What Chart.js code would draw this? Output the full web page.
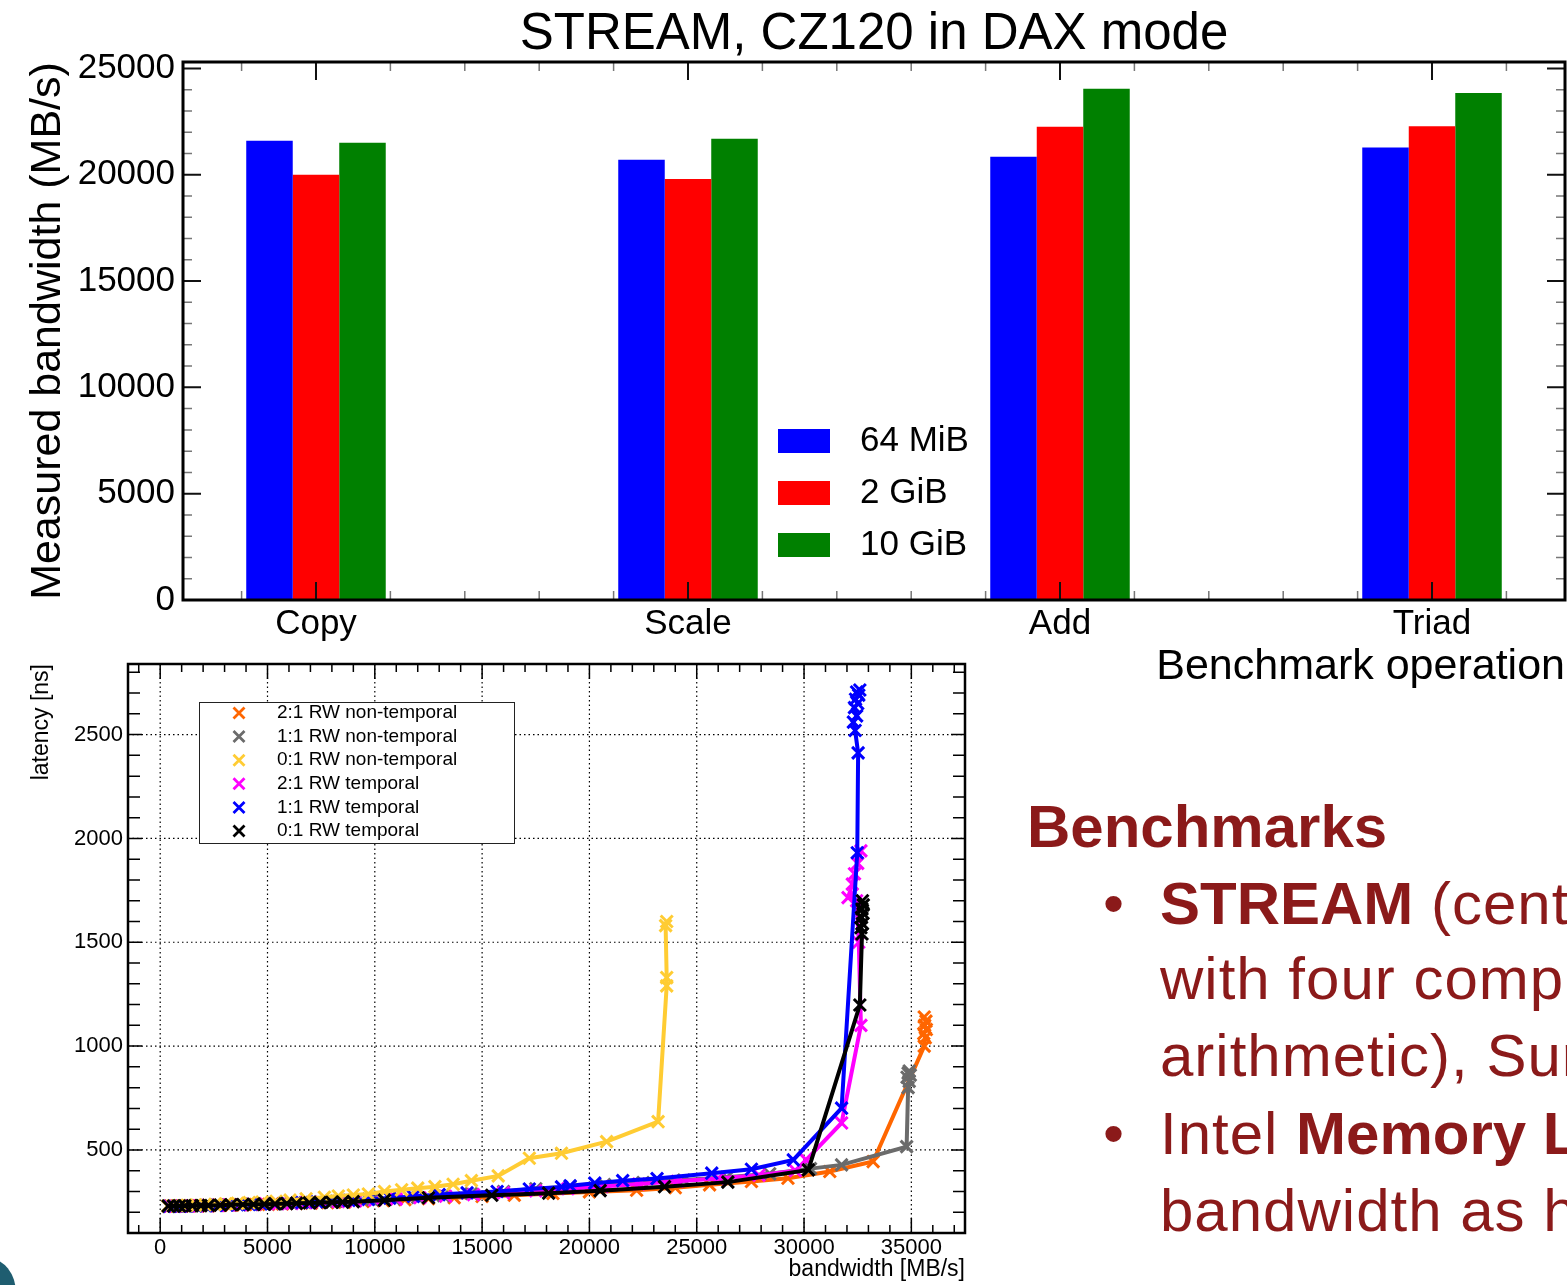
<!DOCTYPE html>
<html>
<head>
<meta charset="utf-8">
<script src="https://cdn.jsdelivr.net/npm/chart.js@4.4.0/dist/chart.umd.min.js"></script>
<style>
    html, body { margin: 0; padding: 0; background: #fff; }
    body { width: 1567px; height: 1285px; position: relative; overflow: hidden; font-family: "Liberation Sans", Arial, sans-serif; }
    canvas { position: absolute; left: 0; }
    #streamChart { top: 0; }
    #latencyChart { top: 640px; }
    .slide { position: absolute; color: #8b1a1a; white-space: nowrap; font-size: 60px; line-height: 60px; letter-spacing: 1px; }
    .slide b { font-weight: bold; letter-spacing: 0; }
    .corner { position: absolute; left: -40px; top: 1258px; width: 56px; height: 70px; border-radius: 50%; background: #1f5d70; }
</style>
</head>
<body>
<canvas id="streamChart" width="1567" height="700"></canvas>
<canvas id="latencyChart" width="990" height="645"></canvas>

<div class="slide" style="left:1027px; top:797px; font-weight:bold; letter-spacing:0;">Benchmarks</div>
<div class="slide" style="left:1103px; top:874px;">•</div>
<div class="slide" style="left:1160px; top:874px;"><b>STREAM</b> (cent</div>
<div class="slide" style="left:1160px; top:949px;">with four comp</div>
<div class="slide" style="left:1160px; top:1026px;">arithmetic), Sur</div>
<div class="slide" style="left:1103px; top:1104px;">•</div>
<div class="slide" style="left:1160px; top:1104px;">Intel <b>Memory L</b></div>
<div class="slide" style="left:1160px; top:1181px;">bandwidth as h</div>
<div class="corner"></div>

<script>
    // STREAM bandwidth, MB/s
    const categories = ["Copy", "Scale", "Add", "Triad"];
    const sizeLabels = ["64 MiB", "2 GiB", "10 GiB"];
    const bw64MiB = [21600, 20700, 20850, 21280];
    const bw2GiB = [20000, 19800, 22250, 22280];
    const bw10GiB = [21500, 21690, 24040, 23840];
    const streamTicks = [0, 5000, 10000, 15000, 20000, 25000];

    // MLC loaded latency, [bandwidth MB/s, latency ns]
    const seriesLabels = ["2:1 RW non-temporal", "1:1 RW non-temporal", "0:1 RW non-temporal",
        "2:1 RW temporal", "1:1 RW temporal", "0:1 RW temporal"];
    const bandwidthTicks = [0, 5000, 10000, 15000, 20000, 25000, 30000, 35000];
    const latencyTicks = [500, 1000, 1500, 2000, 2500];
    const lat21NonTemporal = [[480, 230], [750, 230], [1050, 230], [1400, 231], [1800, 231], [2250, 232],
        [2750, 233], [3300, 234], [3850, 235], [4450, 237], [5050, 238], [5700, 240], [6350, 242],
        [7050, 244], [7800, 246], [8600, 249], [9450, 252], [10400, 256], [11400, 260], [12500, 265],
        [13700, 270], [15000, 276], [16500, 282], [18300, 290], [20000, 298], [22200, 306], [24000, 318],
        [25600, 332], [27550, 348], [29250, 364], [31200, 396], [33220, 444], [35600, 1000],
        [35650, 1040], [35580, 1060], [35700, 1080], [35620, 1100], [35680, 1120], [35600, 1140]];
    const lat11NonTemporal = [[420, 229], [680, 229], [980, 230], [1300, 230], [1700, 231], [2150, 232],
        [2650, 233], [3150, 235], [3700, 236], [4250, 238], [4850, 240], [5450, 242], [6100, 244],
        [6750, 247], [7450, 250], [8200, 253], [9000, 256], [9900, 260], [10900, 265], [12000, 271],
        [13200, 280], [14500, 290], [16000, 300], [17500, 313], [19100, 323], [20700, 333], [22500, 343],
        [24400, 355], [26400, 368], [28400, 385], [30300, 410], [31750, 428], [34780, 516],
        [34850, 800], [34900, 830], [34800, 850], [34950, 860], [34850, 870], [34900, 880]];
    const lat01NonTemporal = [[350, 230], [600, 231], [900, 232], [1250, 233], [1650, 234], [2100, 236],
        [2550, 238], [3050, 240], [3600, 243], [4150, 246], [4750, 249], [5400, 253], [6050, 258],
        [6800, 265], [7650, 272], [8300, 278], [9000, 283], [9700, 288], [10450, 300], [11250, 308],
        [12000, 316], [12800, 323], [13650, 335], [14500, 352], [15750, 375], [17200, 460], [18700, 484],
        [20800, 540], [23200, 636], [23600, 1290], [23600, 1330], [23550, 1580], [23600, 1600]];
    const lat21Temporal = [[450, 229], [700, 229], [1000, 230], [1350, 230], [1750, 231], [2200, 232],
        [2700, 233], [3200, 235], [3750, 236], [4300, 238], [4900, 240], [5500, 241], [6150, 243],
        [6800, 246], [7500, 248], [8300, 251], [9100, 254], [10000, 258], [11000, 263], [12100, 270],
        [13300, 277], [14600, 285], [16000, 293], [17500, 303], [19000, 313], [20600, 324], [22300, 336],
        [24100, 349], [26000, 363], [27900, 378], [29600, 400], [30100, 452], [31750, 630], [32650, 1100],
        [32550, 1500], [32450, 1700], [32050, 1715], [32250, 1780], [32350, 1830], [32500, 1880],
        [32650, 1940]];
    const lat11Temporal = [[400, 228], [650, 229], [950, 229], [1250, 230], [1650, 231], [2100, 232],
        [2600, 233], [3100, 235], [3600, 236], [4150, 238], [4700, 240], [5300, 242], [5900, 244],
        [6600, 247], [7300, 250], [8000, 253], [8800, 257], [9700, 262], [10700, 268], [11800, 276],
        [13000, 285], [14300, 293], [15700, 300], [17200, 312], [18700, 322], [19100, 327], [20250, 340],
        [21550, 352], [23150, 362], [25700, 388], [27550, 407], [29500, 452], [31750, 701], [32480, 1931],
        [32520, 2412], [32380, 2520], [32300, 2560], [32450, 2590], [32350, 2630], [32500, 2650],
        [32400, 2670], [32550, 2690], [32450, 2705], [32600, 2715]];
    const lat01Temporal = [[370, 230], [620, 230], [900, 230], [1150, 231], [1500, 231], [1900, 232],
        [2250, 233], [2800, 234], [3300, 236], [3850, 237], [4350, 238], [4850, 239], [5350, 240],
        [5900, 242], [6350, 243], [6950, 245], [7450, 246], [8000, 248], [8500, 249], [9000, 251],
        [10450, 258], [12500, 270], [15450, 282], [18100, 292], [20500, 304], [23500, 323], [26450, 345],
        [30200, 404], [32600, 1198], [32700, 1540], [32650, 1570], [32720, 1590], [32680, 1620],
        [32750, 1640], [32700, 1660], [32760, 1680], [32720, 1700]];

    const barColors = ["#0000ff", "#ff0000", "#008000"];
    const lineColors = ["#ff6600", "#6b6b6b", "#ffcc33", "#ff00ff", "#0000ff", "#000000"];
    const drawOrder = [5, 4, 1, 3, 2, 0]; // black on top

    Chart.defaults.font.family = '"Liberation Sans", Arial, sans-serif';
    Chart.defaults.color = "#000";

    const fixedTicks = (values) => (scale) => {
        scale.ticks = values.map((value) => ({ value }));
    };

    const markValues = (scale, step) => {
        const vals = [];
        for (let k = Math.ceil(scale.min / step - 1e-9); k * step <= scale.max + 1e-9; k++) {
            vals.push(k * step);
        }
        return vals;
    };

    // gnuplot style ticks, pointing inwards on all four sides
    const drawMarks = (ctx, scale, spec, a, horizontal) => {
        markValues(scale, spec.minor).forEach((v) => {
            const isMajor = Math.abs(v / spec.major - Math.round(v / spec.major)) < 1e-6;
            const len = isMajor ? spec.majorLen : spec.minorLen;
            const p = scale.getPixelForValue(v);
            ctx.strokeStyle = isMajor ? spec.majorColor : spec.minorColor;
            ctx.lineWidth = isMajor ? spec.majorWidth : spec.minorWidth;
            ctx.beginPath();
            if (horizontal) {
                ctx.moveTo(p, a.bottom);
                ctx.lineTo(p, a.bottom - len);
                ctx.moveTo(p, a.top);
                ctx.lineTo(p, a.top + len);
            } else {
                ctx.moveTo(a.left, p);
                ctx.lineTo(a.left + len, p);
                ctx.moveTo(a.right, p);
                ctx.lineTo(a.right - len, p);
            }
            ctx.stroke();
        });
    };

    const framePlugin = {
        id: "frame",
        beforeDatasetsDraw(chart, args, opts) {
            if (!opts.grid) {
                return;
            }
            const { ctx, chartArea: a, scales: { x, y } } = chart;
            ctx.save();
            ctx.strokeStyle = "#000";
            ctx.lineWidth = 1.2;
            ctx.setLineDash([1.5, 3]);
            x.ticks.forEach((t) => {
                const p = x.getPixelForValue(t.value);
                ctx.beginPath();
                ctx.moveTo(p, a.top);
                ctx.lineTo(p, a.bottom);
                ctx.stroke();
            });
            y.ticks.forEach((t) => {
                const p = y.getPixelForValue(t.value);
                ctx.beginPath();
                ctx.moveTo(a.left, p);
                ctx.lineTo(a.right, p);
                ctx.stroke();
            });
            ctx.restore();
        },
        afterDatasetsDraw(chart, args, opts) {
            const { ctx, chartArea: a, scales: { x, y } } = chart;
            ctx.save();
            drawMarks(ctx, x, opts.xMarks, a, true);
            drawMarks(ctx, y, opts.yMarks, a, false);
            ctx.strokeStyle = "#000";
            ctx.lineWidth = opts.frameWidth;
            ctx.strokeRect(a.left, a.top, a.right - a.left, a.bottom - a.top);

            const lg = opts.legend;
            ctx.font = lg.font;
            ctx.textBaseline = "middle";
            ctx.textAlign = "left";
            if (lg.box) {
                ctx.fillStyle = "#fff";
                ctx.fillRect(lg.box[0], lg.box[1], lg.box[2] - lg.box[0], lg.box[3] - lg.box[1]);
                ctx.strokeStyle = "#222";
                ctx.lineWidth = 1;
                ctx.strokeRect(lg.box[0] + 0.5, lg.box[1] + 0.5, lg.box[2] - lg.box[0], lg.box[3] - lg.box[1]);
            }
            chart.data.datasets.forEach((ds, i) => {
                const cy = lg.firstY + i * lg.gap;
                if (lg.swatch) {
                    ctx.fillStyle = ds.backgroundColor;
                    ctx.fillRect(lg.markX, cy - lg.swatch[1] / 2, lg.swatch[0], lg.swatch[1]);
                } else {
                    const r = 5.5;
                    ctx.strokeStyle = ds.borderColor;
                    ctx.lineWidth = 2.8;
                    ctx.beginPath();
                    ctx.moveTo(lg.markX - r, cy - r);
                    ctx.lineTo(lg.markX + r, cy + r);
                    ctx.moveTo(lg.markX - r, cy + r);
                    ctx.lineTo(lg.markX + r, cy - r);
                    ctx.stroke();
                }
                ctx.fillStyle = "#000";
                ctx.fillText(ds.label, lg.textX, cy);
            });
            ctx.restore();
        }
    };

    new Chart(document.getElementById("streamChart"), {
        type: "bar",
        data: {
            datasets: [bw64MiB, bw2GiB, bw10GiB].map((vals, i) => ({
                label: sizeLabels[i],
                data: vals.map((v, k) => ({ x: k, y: v })),
                backgroundColor: barColors[i],
                borderWidth: 0,
                categoryPercentage: 0.375,
                barPercentage: 1
            }))
        },
        options: {
            responsive: false,
            animation: false,
            layout: { padding: { top: 0, right: 2, left: 0, bottom: 0 } },
            plugins: {
                legend: { display: false },
                tooltip: { enabled: false },
                title: {
                    display: true,
                    text: "STREAM, CZ120 in DAX mode",
                    fullSize: false,
                    color: "#000",
                    font: { size: 51, weight: "normal", lineHeight: 1 },
                    padding: { top: 9, bottom: 2 }
                },
                frame: {
                    frameWidth: 3,
                    xMarks: { minor: 0.2, major: 1, majorLen: 18, minorLen: 9, majorWidth: 2, minorWidth: 1.5, majorColor: "#111", minorColor: "#777" },
                    yMarks: { minor: 1000, major: 5000, majorLen: 18, minorLen: 9, majorWidth: 2, minorWidth: 1.5, majorColor: "#111", minorColor: "#777" },
                    legend: { swatch: [52, 24], markX: 778, textX: 860, firstY: 441, gap: 52, font: '35px "Liberation Sans", Arial, sans-serif' }
                }
            },
            scales: {
                x: {
                    type: "linear",
                    offset: false,
                    min: -0.3575,
                    max: 3.3575,
                    grid: { display: false, drawTicks: false, offset: false },
                    border: { display: false },
                    afterBuildTicks: fixedTicks(categories.map((c, i) => i)),
                    ticks: {
                        autoSkip: false,
                        maxRotation: 0,
                        padding: 3,
                        color: "#000",
                        font: { size: 35 },
                        callback: (v) => categories[v] ?? ""
                    },
                    title: {
                        display: true,
                        text: "Benchmark operation",
                        align: "end",
                        color: "#000",
                        font: { size: 43 },
                        padding: { top: 0, bottom: 7 }
                    },
                    afterFit: (s) => { s.height = 100; }
                },
                y: {
                    min: 0,
                    max: 25300,
                    grid: { display: false, drawTicks: false },
                    border: { display: false },
                    afterBuildTicks: fixedTicks(streamTicks),
                    ticks: {
                        padding: 8,
                        color: "#000",
                        font: { size: 35 },
                        callback: (v) => String(v)
                    },
                    title: {
                        display: true,
                        text: "Measured bandwidth (MB/s)",
                        color: "#000",
                        font: { size: 43 },
                        padding: { top: 22, bottom: 0 }
                    },
                    afterFit: (s) => { s.width = 183; }
                }
            }
        },
        plugins: [framePlugin]
    });

    const latencySeries = [lat21NonTemporal, lat11NonTemporal, lat01NonTemporal,
        lat21Temporal, lat11Temporal, lat01Temporal];

    new Chart(document.getElementById("latencyChart"), {
        type: "line",
        data: {
            datasets: latencySeries.map((pts, i) => ({
                label: seriesLabels[i],
                data: pts.map(([x, y]) => ({ x, y })),
                borderColor: lineColors[i],
                backgroundColor: lineColors[i],
                borderWidth: 4,
                tension: 0,
                fill: false,
                pointStyle: "crossRot",
                pointRadius: 8.5,
                pointBorderWidth: 3,
                pointBorderColor: lineColors[i],
                order: drawOrder[i]
            }))
        },
        options: {
            responsive: false,
            animation: false,
            layout: { padding: { top: 24, right: 25, left: 0, bottom: 0 } },
            plugins: {
                legend: { display: false },
                tooltip: { enabled: false },
                frame: {
                    grid: true,
                    frameWidth: 2.5,
                    xMarks: { minor: 1000, major: 5000, majorLen: 15, minorLen: 8, majorWidth: 1.5, minorWidth: 1.5, majorColor: "#000", minorColor: "#000" },
                    yMarks: { minor: 100, major: 500, majorLen: 14, minorLen: 12, majorWidth: 1.5, minorWidth: 1.5, majorColor: "#000", minorColor: "#000" },
                    legend: { box: [199, 62, 514, 203], markX: 239, textX: 277, firstY: 73, gap: 23.6, font: '19px "Liberation Sans", Arial, sans-serif' }
                }
            },
            scales: {
                x: {
                    type: "linear",
                    min: -1500,
                    max: 37500,
                    grid: { display: false, drawTicks: false },
                    border: { display: false },
                    afterBuildTicks: fixedTicks(bandwidthTicks),
                    ticks: {
                        autoSkip: false,
                        maxRotation: 0,
                        padding: 2,
                        color: "#000",
                        font: { size: 22 },
                        callback: (v) => String(v)
                    },
                    title: {
                        display: true,
                        text: "bandwidth [MB/s]",
                        align: "end",
                        color: "#000",
                        font: { size: 23 },
                        padding: { top: 0, bottom: 2 }
                    },
                    afterFit: (s) => { s.height = 52; }
                },
                y: {
                    type: "linear",
                    min: 100,
                    max: 2840,
                    grid: { display: false, drawTicks: false },
                    border: { display: false },
                    afterBuildTicks: fixedTicks(latencyTicks),
                    ticks: {
                        padding: 5,
                        color: "#000",
                        font: { size: 22 },
                        callback: (v) => String(v)
                    },
                    title: {
                        display: true,
                        text: "latency [ns]",
                        align: "end",
                        color: "#000",
                        font: { size: 23 },
                        padding: { top: 28, bottom: 0 }
                    },
                    afterFit: (s) => { s.width = 128; }
                }
            }
        },
        plugins: [framePlugin]
    });
</script>
</body>
</html>
